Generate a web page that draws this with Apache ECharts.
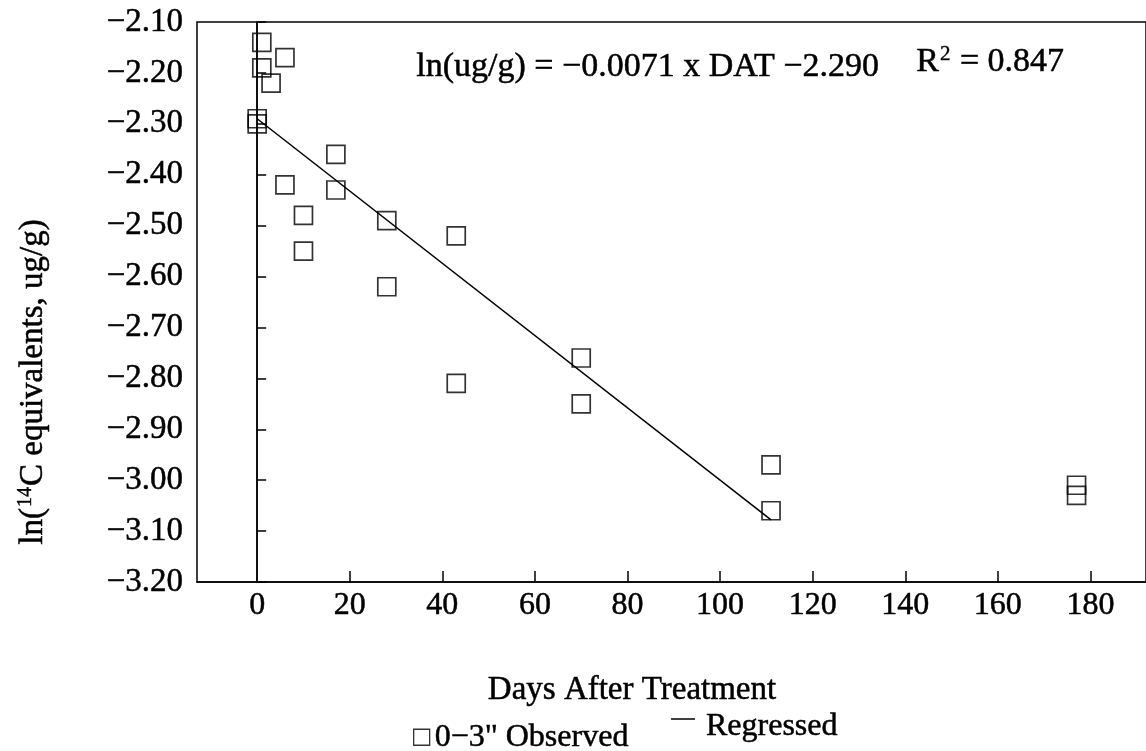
<!DOCTYPE html>
<html>
<head>
<meta charset="utf-8">
<script src="https://cdn.jsdelivr.net/npm/echarts@6/dist/echarts.min.js"></script>
<style>
  html, body { margin: 0; padding: 0; background: #fff; }
  #chart { width: 1146px; height: 751px; }
</style>
</head>
<body>
<div id="chart"></div>
<script>
// Soil residue, 0-3" layer: ln(14C equivalents, ug/g) vs days after treatment
const observedDays = [0, 0, 1, 1, 3, 6, 6, 10, 10, 17, 17, 28, 28, 43, 43, 70, 70, 111, 111, 177, 177];
const observedLn   = [-2.29, -2.30, -2.14, -2.19, -2.22, -2.17, -2.42, -2.48, -2.55, -2.36, -2.43,
                      -2.49, -2.62, -2.52, -2.81, -2.76, -2.85, -2.97, -3.06, -3.01, -3.03];

// Fitted regression: ln(ug/g) = slope * DAT + intercept, over the fitted day range
const slope = -0.0071;
const intercept = -2.290;
const rSquared = 0.847;
const fitRange = [0, 111];

const xTickValues = [0, 20, 40, 60, 80, 100, 120, 140, 160, 180];
const yTickValues = [-2.10, -2.20, -2.30, -2.40, -2.50, -2.60, -2.70, -2.80, -2.90, -3.00, -3.10, -3.20];

const SERIF = '"Liberation Serif", "Times New Roman", serif';
const INK = { color: '#000', textBorderColor: '#000', textBorderWidth: 0.5 };
const minus = s => String(s).replace('-', '\u2212');

const observedData = observedDays.map((d, i) => [d, observedLn[i]]);
const regressedData = fitRange.map(d => [d, intercept + slope * d]);

const chart = echarts.init(document.getElementById('chart'), null, { renderer: 'canvas' });

const richText = (size, supSize, supLift) => ({
  a: { fontFamily: SERIF, fontSize: size, fill: '#000', stroke: '#000', lineWidth: 0.5, lineHeight: 42, verticalAlign: 'bottom' },
  s: { fontFamily: SERIF, fontSize: supSize, fill: '#000', stroke: '#000', lineWidth: 0.4, lineHeight: 42, verticalAlign: 'bottom', padding: [0, 1, supLift, 1] }
});

chart.setOption({
  animation: false,
  backgroundColor: '#fff',
  grid: {
    left: 197, top: 22, bottom: 169, right: -5,
    show: true, borderColor: '#000', borderWidth: 1.5, backgroundColor: 'transparent'
  },
  xAxis: {
    type: 'value', min: -13, max: 192,
    axisLine: { lineStyle: { color: '#000', width: 1.5 } },
    axisTick: { inside: true, length: 11, customValues: xTickValues.slice(1), lineStyle: { color: '#000', width: 1.5 } },
    axisLabel: Object.assign({ customValues: xTickValues, margin: 8, fontFamily: SERIF, fontSize: 32 }, INK),
    splitLine: { show: false }
  },
  yAxis: {
    type: 'value', min: -3.2, max: -2.1,
    axisLine: { lineStyle: { color: '#000', width: 1.5 } },
    axisTick: { inside: true, length: 9, customValues: yTickValues, lineStyle: { color: '#000', width: 1.5 } },
    axisLabel: Object.assign({
      customValues: yTickValues, margin: 14, fontFamily: SERIF, fontSize: 33,
      formatter: v => minus(v.toFixed(2))
    }, INK),
    splitLine: { show: false }
  },
  legend: [
    {
      data: ['0\u22123" Observed'], left: 408, top: 716, itemWidth: 16, itemHeight: 16, itemGap: 8,
      itemStyle: { color: 'rgba(0,0,0,0)', borderColor: '#000', borderWidth: 1.3 },
      textStyle: Object.assign({ fontFamily: SERIF, fontSize: 32 }, INK)
    },
    {
      data: [{ name: 'Regressed', icon: 'path://M0,0H30V1.8H0Z M0,20H0.01' }],
      left: 666, top: 705, itemWidth: 24, itemHeight: 16, itemGap: 4,
      textStyle: Object.assign({ fontFamily: SERIF, fontSize: 32, padding: [0, 0, 0, 6] }, INK)
    }
  ],
  graphic: [
    {
      type: 'text', left: 416, top: 50,
      style: {
        text: 'ln(ug/g) = ' + minus(slope.toFixed(4)) + ' x DAT ' + minus(intercept.toFixed(3)),
        font: '34px ' + SERIF, fill: '#000', stroke: '#000', lineWidth: 0.5
      }
    },
    {
      type: 'text', left: 916, top: 44,
      style: {
        text: '{a|R}{s|2}{a| = ' + rSquared.toFixed(3) + '}',
        fill: '#000',
        rich: richText(34, 21, 14)
      }
    },
    {
      type: 'text', x: 29, y: 382, rotation: Math.PI / 2,
      style: {
        text: '{a|ln(}{s|14}{a|C equivalents, ug/g)}',
        align: 'center', verticalAlign: 'middle', fill: '#000',
        rich: richText(33, 20, 14)
      }
    },
    {
      type: 'text', x: 632, y: 690,
      style: {
        text: 'Days After Treatment', align: 'center', verticalAlign: 'middle',
        font: '33px ' + SERIF, fill: '#000', stroke: '#000', lineWidth: 0.5
      }
    }
  ],
  series: [
    {
      name: 'Regressed', type: 'line', data: regressedData,
      symbol: 'none', z: 2,
      lineStyle: { color: '#000', width: 1.5 },
      itemStyle: { color: '#000' },
      markLine: {
        silent: true, symbol: ['none', 'none'], label: { show: false },
        lineStyle: { color: '#000', width: 1.5, type: 'solid' },
        data: [{ xAxis: 0 }]
      }
    },
    {
      name: '0\u22123" Observed', type: 'scatter', data: observedData,
      symbol: 'rect', symbolSize: 18, z: 3,
      itemStyle: { color: 'rgba(0,0,0,0)', borderColor: '#000', borderWidth: 1.7 }
    }
  ]
});
</script>
</body>
</html>
